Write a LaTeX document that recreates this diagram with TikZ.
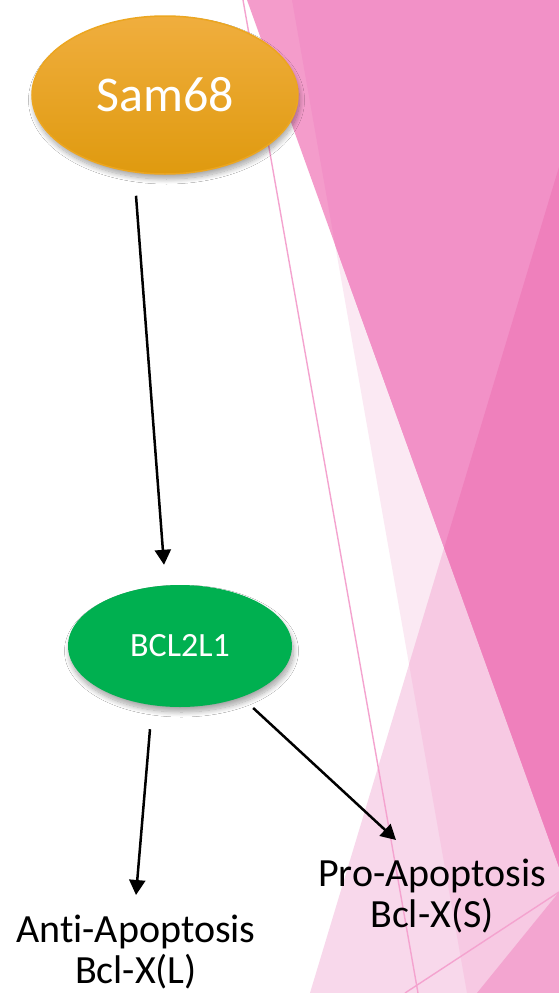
\documentclass[tikz,border=0pt]{standalone}
\usepackage{fontspec}
\setmainfont[Ligatures={NoCommon,NoContextual}]{Carlito}
\usetikzlibrary{shapes.geometric,arrows.meta,shadows.blur,calc}

% facet colours of the side panel
\definecolor{pkX}{HTML}{FBE9F3}
\definecolor{pkZ}{HTML}{F8D8EB}
\definecolor{pkXZ}{HTML}{F7C9E3}
\definecolor{pkY}{HTML}{F49CCB}
\definecolor{pkXY}{HTML}{F291C7}
\definecolor{pkXYZ}{HTML}{EF80BC}
\definecolor{pkW}{HTML}{F3A5D0}
\definecolor{pkline}{HTML}{F4A3CF}
% node colours
\definecolor{samtop}{HTML}{F0AE3E}
\definecolor{sambot}{HTML}{DF9A0F}
\definecolor{samedge}{HTML}{ECA620}
\definecolor{bclgreen}{HTML}{00B050}

\tikzset{
  facetline/.style={draw=pkline, line width=1.4pt},
  genebox/.style={ellipse, inner sep=0pt, text=white,
    blur shadow={shadow xshift=1.5pt, shadow yshift=-5pt,
      shadow blur radius=5pt, shadow blur steps=12, shadow opacity=35}},
  conn/.style={line width=2.5pt, -{Triangle[length=15pt,width=16pt]}},
  outcome/.style={anchor=north, align=center, inner sep=0pt,
    font=\fontsize{40}{41}\selectfont}
}

\begin{document}
\begin{tikzpicture}[x=1pt,y=-1pt]
\useasboundingbox (0,0) rectangle (559,993);
\fill[white] (0,0) rectangle (559,993);

% overlapping translucent facets on the right
\fill[pkX] (292,0) -- (559,0) -- (559,993) -- (467,993) -- cycle;
\fill[pkZ] (559,167) -- (559,993) -- (310,993) -- cycle;
\begin{scope}
  \clip (292,0) -- (559,0) -- (559,993) -- (467,993) -- cycle;
  \fill[pkXZ] (559,167) -- (559,993) -- (310,993) -- cycle;
\end{scope}
\fill[pkY] (247,0) -- (559,0) -- (559,867) -- cycle;
\begin{scope}
  \clip (292,0) -- (559,0) -- (559,993) -- (467,993) -- cycle;
  \fill[pkXY] (247,0) -- (559,0) -- (559,867) -- cycle;
  \clip (559,167) -- (559,993) -- (310,993) -- cycle;
  \fill[pkXYZ] (247,0) -- (559,0) -- (559,867) -- cycle;
\end{scope}
\fill[pkW] (559,892) -- (559,993) -- (477,993) -- cycle;
\draw[facetline] (243,0) -- (418,993);
\draw[facetline] (559,892) -- (405,993);

% genes
\node[genebox, minimum width=266pt, minimum height=158pt,
      top color=samtop, bottom color=sambot, draw=samedge, line width=1.5pt,
      font=\fontsize{50}{60}\selectfont] (sam) at (165,95) {Sam68};
\node[genebox, minimum width=224pt, minimum height=122pt, fill=bclgreen,
      font=\fontsize{34}{40}\selectfont] (bcl) at (180,646) {BCL2L1};

% splice outcomes
\node[outcome] (anti) at (136,915) {Anti-Apoptosis\\Bcl-X(L)};
\node[outcome] (pro) at (432,859) {Pro-Apoptosis\\Bcl-X(S)};

% regulation arrows
\draw[conn] ($(sam.south)+(-29,21)$) -- ($(bcl.north)+(-16,-20)$);
\draw[conn] ($(bcl.south)+(-30,22)$) -- ($(anti.north)+(0,-20)$);
\draw[conn] ($(bcl.east)+(-39,62)$) -- ($(pro.north)+(-36,-19)$);
\end{tikzpicture}
\end{document}
